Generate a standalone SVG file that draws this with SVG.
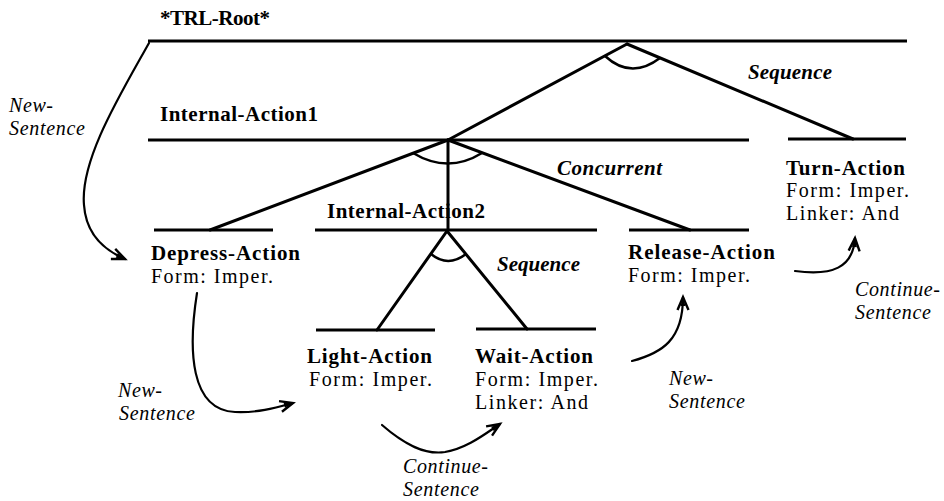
<svg xmlns="http://www.w3.org/2000/svg" width="944" height="501" viewBox="0 0 944 501">
  <style>
    .bg { fill: #ffffff; }
    .bar { stroke: #000; stroke-width: 3; stroke-linecap: butt; fill: none; }
    .edge { stroke: #000; stroke-width: 3; stroke-linecap: round; fill: none; }
    .arc { stroke: #000; stroke-width: 2.5; fill: none; }
    .flow { stroke: #000; stroke-width: 2.2; fill: none; stroke-linecap: round; }
    .name { font-family: "Liberation Serif", "Times New Roman", serif; font-size: 21px; font-weight: bold; fill: #000; }
    .attr { font-family: "Liberation Serif", "Times New Roman", serif; font-size: 20px; fill: #000; }
    .rel { font-family: "Liberation Serif", "Times New Roman", serif; font-size: 21px; font-style: italic; font-weight: bold; fill: #000; }
    .link { font-family: "Liberation Serif", "Times New Roman", serif; font-size: 20px; font-style: italic; fill: #000; }
  </style>
  <defs>
    <marker id="head" markerUnits="userSpaceOnUse" markerWidth="20" markerHeight="16" refX="0" refY="0" viewBox="-14 -8 16 16" orient="auto" overflow="visible">
      <path d="M-13,-5.5 L0,0 L-13,5.5" fill="none" stroke="#000" stroke-width="2.4" stroke-linejoin="miter"/>
      <path d="M-9,-2.5 L0,0 L-9,2.5 Z" fill="#000"/>
    </marker>
  </defs>

  <rect class="bg" x="0" y="0" width="944" height="501"/>

  <!-- tree: decomposition edges and ordering arcs -->
  <g id="connectors">
    <!-- root sequence -->
    <line class="edge" x1="627" y1="44" x2="448" y2="140"/>
    <line class="edge" x1="627" y1="44" x2="853" y2="139"/>
    <path class="arc" d="M605,56 Q631,80 660,58"/>
    <!-- Internal-Action1 concurrent -->
    <line class="edge" x1="448" y1="140" x2="210" y2="230"/>
    <line class="edge" x1="448" y1="140" x2="448" y2="230"/>
    <line class="edge" x1="448" y1="140" x2="690" y2="230"/>
    <path class="arc" d="M413,153 Q448,174 482,153"/>
    <!-- Internal-Action2 sequence -->
    <line class="edge" x1="447" y1="231" x2="377" y2="330"/>
    <line class="edge" x1="447" y1="231" x2="527" y2="329"/>
    <path class="arc" d="M431,254 Q448,268 466,254"/>

    <!-- discourse links -->
    <path class="flow" marker-end="url(#head)" d="M149,43 C120,95 80,160 84,205 C86,235 104,250 125,259"/>
    <path class="flow" marker-end="url(#head)" d="M197,293 C188,350 190,410 235,412 C258,413 275,408 293,403"/>
    <path class="flow" marker-end="url(#head)" d="M382,425 C405,445 425,455 445,452 C468,448 486,433 500,424"/>
    <path class="flow" marker-end="url(#head)" d="M632,361 C662,353 683,340 683,297"/>
    <path class="flow" marker-end="url(#head)" d="M795,271 C832,276 853,268 855,238"/>

    <!-- link labels -->
    <text class="rel" x="748" y="79" textLength="84">Sequence</text>
    <text class="rel" x="557" y="175" textLength="105">Concurrent</text>
    <text class="rel" x="497" y="271" textLength="83">Sequence</text>
    <text class="link" x="9" y="112" textLength="44">New-</text>
    <text class="link" x="9" y="135" textLength="76">Sentence</text>
    <text class="link" x="118" y="397" textLength="44">New-</text>
    <text class="link" x="119" y="420" textLength="76">Sentence</text>
    <text class="link" x="403" y="473" textLength="85">Continue-</text>
    <text class="link" x="403" y="496" textLength="76">Sentence</text>
    <text class="link" x="669" y="385" textLength="44">New-</text>
    <text class="link" x="669" y="408" textLength="76">Sentence</text>
    <text class="link" x="855" y="296" textLength="85">Continue-</text>
    <text class="link" x="855" y="319" textLength="76">Sentence</text>
  </g>

  <g id="trl-root">
    <line class="bar" x1="148" y1="41" x2="907" y2="41"/>
    <text class="name" x="160" y="25" textLength="110">*TRL-Root*</text>
  </g>

  <g id="internal-action1">
    <line class="bar" x1="148" y1="140" x2="749" y2="140"/>
    <text class="name" x="160" y="121" textLength="158">Internal-Action1</text>
  </g>

  <g id="turn-action">
    <line class="bar" x1="788" y1="139" x2="906" y2="139"/>
    <text class="name" x="786" y="175" textLength="119">Turn-Action</text>
    <text class="attr" x="786" y="197" textLength="123">Form: Imper.</text>
    <text class="attr" x="786" y="220" textLength="113">Linker: And</text>
  </g>

  <g id="depress-action">
    <line class="bar" x1="154" y1="230" x2="273" y2="230"/>
    <text class="name" x="151" y="260" textLength="149">Depress-Action</text>
    <text class="attr" x="151" y="283" textLength="122">Form: Imper.</text>
  </g>

  <g id="internal-action2">
    <line class="bar" x1="315" y1="230" x2="597" y2="230"/>
    <text class="name" x="327" y="218" textLength="158">Internal-Action2</text>
  </g>

  <g id="release-action">
    <line class="bar" x1="629" y1="230" x2="749" y2="230"/>
    <text class="name" x="628" y="259" textLength="147">Release-Action</text>
    <text class="attr" x="628" y="282" textLength="122">Form: Imper.</text>
  </g>

  <g id="light-action">
    <line class="bar" x1="316" y1="330" x2="435" y2="330"/>
    <text class="name" x="307" y="363" textLength="125">Light-Action</text>
    <text class="attr" x="309" y="386" textLength="123">Form: Imper.</text>
  </g>

  <g id="wait-action">
    <line class="bar" x1="476" y1="329" x2="596" y2="329"/>
    <text class="name" x="475" y="363" textLength="118">Wait-Action</text>
    <text class="attr" x="475" y="386" textLength="123">Form: Imper.</text>
    <text class="attr" x="475" y="409" textLength="113">Linker: And</text>
  </g>
</svg>
